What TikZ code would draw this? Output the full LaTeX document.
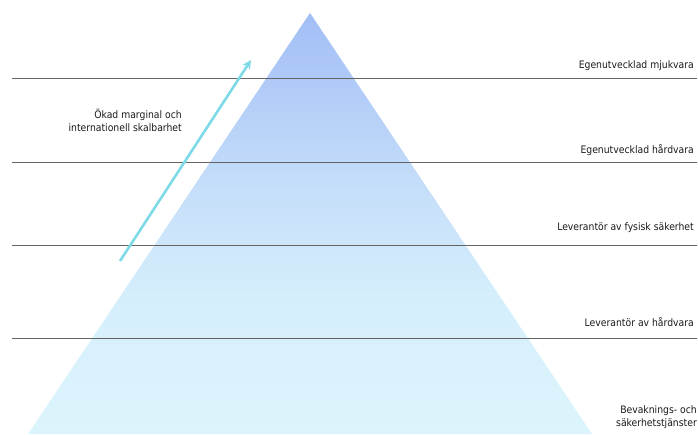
\documentclass[tikz,border=0pt]{standalone}
\usepackage{fontspec}
\setmainfont{DejaVu Sans Condensed}
\usetikzlibrary{arrows.meta}
\definecolor{pyrtop}{RGB}{162,190,246}
\definecolor{pyrb}{RGB}{200,225,250}
\definecolor{pyrc}{RGB}{213,238,252}
\definecolor{pyrbot}{RGB}{220,245,252}
\definecolor{arrowcyan}{RGB}{125,218,230}
\definecolor{rulegray}{RGB}{100,100,100}
\pgfdeclareverticalshading{pyrshade}{100bp}{color(0bp)=(pyrbot); color(25bp)=(pyrbot); color(41.5bp)=(pyrc); color(52.2bp)=(pyrb); color(75bp)=(pyrtop); color(100bp)=(pyrtop)}
\begin{document}
\begin{tikzpicture}[x=1pt,y=-1pt,
  lbl/.style={font=\fontsize{10.3}{13}\selectfont, text={rgb,255:red,25;green,25;blue,25}, inner sep=0pt, align=right},
  rule/.style={draw=rulegray, line width=0.9pt},
  growth/.style={draw=arrowcyan, line width=2.6pt, -{Stealth[length=9pt,width=9pt]}}]
\useasboundingbox (0,0) rectangle (698,434);
% pyramid
\coordinate (apex) at (310,13);
\coordinate (bl) at (28,434);
\coordinate (br) at (592,434);
\shade[shading=pyrshade] (apex) -- (br) -- (bl) -- cycle;
% rules
\foreach \n/\y in {1/78,2/162,3/245,4/338}{
  \coordinate (r\n a) at (12,\y);
  \coordinate (r\n b) at (697,\y);
  \draw[rule] (r\n a) -- (r\n b);
}
% growth arrow
\coordinate (gs) at (120,261);
\coordinate (ge) at (251,60);
\draw[growth] (gs) -- (ge);
% labels
\node[lbl, anchor=east] (t1) at (694,66) {Egenutvecklad mjukvara};
\node[lbl, anchor=east] (t2) at (694,150) {Egenutvecklad hårdvara};
\node[lbl, anchor=east] (t3) at (694,228) {Leverantör av fysisk säkerhet};
\node[lbl, anchor=east] (t4) at (694,322) {Leverantör av hårdvara};
\node[lbl, anchor=east] (t5) at (697,417) {Bevaknings- och\\säkerhetstjänster};
\node[lbl, anchor=east] (t6) at (182,120) {Ökad marginal och\\internationell skalbarhet};
\end{tikzpicture}
\end{document}
